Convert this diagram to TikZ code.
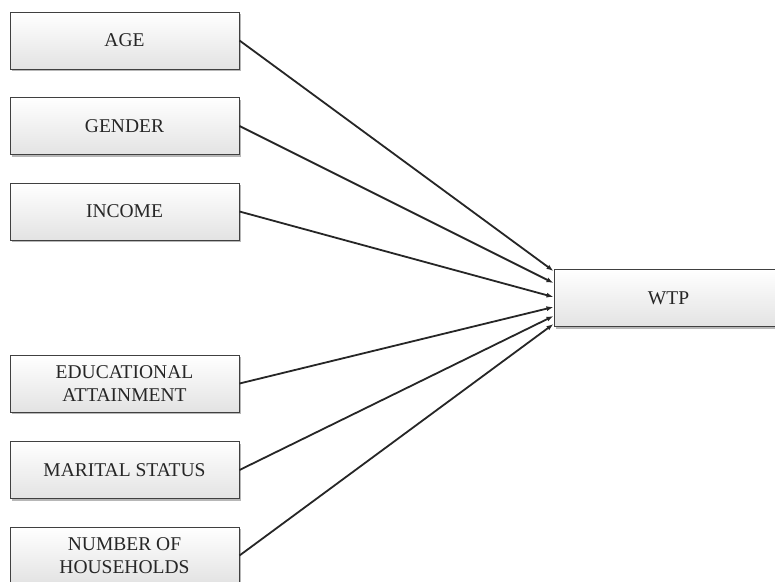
\documentclass[tikz,border=0pt]{standalone}
\usepackage{fontspec}
\setmainfont{Liberation Serif}
\usetikzlibrary{arrows.meta,shadows,calc}

\tikzset{
  factor/.style={
    rectangle, draw=black!75, line width=1pt,
    top color=white, bottom color=black!11,
    drop shadow={shadow xshift=2pt, shadow yshift=-2pt, fill=black!35, opacity=0.8},
    minimum width=229pt, minimum height=57pt, inner sep=0pt,
    align=center, font=\fontsize{19.5}{22.5}\selectfont, text=black!85
  },
  link/.style={draw=black!85, line width=1.8pt,
    -{Latex[length=7pt,width=5pt]}}
}

\begin{document}
\begin{tikzpicture}[x=1pt,y=-1pt]
  \useasboundingbox (0,0) rectangle (775,581);
  \clip (0,0) rectangle (775,581);
  \fill[white] (0,0) rectangle (775,581);

  % explanatory variables
  \node[factor] (age)     at (124.5,40.5)  {AGE};
  \node[factor] (gender)  at (124.5,126)   {GENDER};
  \node[factor] (income)  at (124.5,211.5) {INCOME};
  \node[factor] (edu)     at (124.5,383.5) {EDUCATIONAL\\ATTAINMENT};
  \node[factor] (marital) at (124.5,470)   {MARITAL STATUS};
  \node[factor] (house)   at (124.5,555.5) {NUMBER OF\\HOUSEHOLDS};

  % outcome
  \node[factor] (wtp) at (668.5,298) {WTP};

  % entry points on the left side of WTP
  \coordinate (in1) at ([yshift=27pt]wtp.west);
  \coordinate (in2) at ([yshift=15pt]wtp.west);
  \coordinate (in3) at ([yshift=1pt]wtp.west);
  \coordinate (in4) at ([yshift=-9pt]wtp.west);
  \coordinate (in5) at ([yshift=-18pt]wtp.west);
  \coordinate (in6) at ([yshift=-26pt]wtp.west);

  \draw[link] (age.east)     -- (in1);
  \draw[link] (gender.east)  -- (in2);
  \draw[link] (income.east)  -- (in3);
  \draw[link] (edu.east)     -- (in4);
  \draw[link] (marital.east) -- (in5);
  \draw[link] (house.east)   -- (in6);
\end{tikzpicture}
\end{document}
